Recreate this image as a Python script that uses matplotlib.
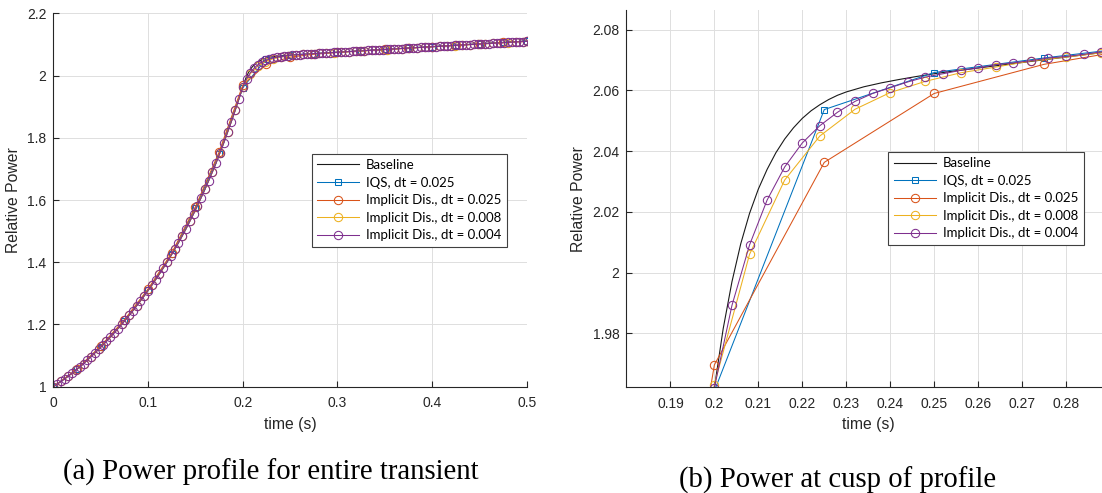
import numpy as np
import matplotlib
matplotlib.use('Agg')
import matplotlib.pyplot as plt

plt.rcParams['font.family'] = ['Liberation Sans', 'DejaVu Sans']
plt.rcParams['font.size'] = 10

# baseline (reference) solution
t_base = [0.00, 0.01, 0.02, 0.03, 0.04, 0.05, 0.06, 0.07, 0.08, 0.09,
          0.10, 0.11, 0.12, 0.13, 0.14, 0.15, 0.16, 0.17, 0.18, 0.19,
          0.200, 0.202, 0.204, 0.206, 0.208, 0.210, 0.212, 0.214, 0.216, 0.218,
          0.220, 0.222, 0.224, 0.226, 0.228, 0.230,
          0.234, 0.238, 0.242, 0.246, 0.250, 0.255, 0.260, 0.265, 0.270, 0.275,
          0.280, 0.285, 0.290,
          0.300, 0.325, 0.350, 0.375, 0.400, 0.425, 0.450, 0.475, 0.500]
p_base = [1.000, 1.021, 1.044, 1.069, 1.097, 1.127, 1.159, 1.193, 1.229, 1.268,
          1.309, 1.353, 1.400, 1.451, 1.507, 1.568, 1.634, 1.705, 1.784, 1.870,
          1.9620, 1.9815, 1.9970, 2.0095, 2.0195, 2.0275, 2.0340, 2.0395, 2.0440, 2.0477,
          2.0508, 2.0533, 2.0553, 2.0570, 2.0584, 2.0595,
          2.0612, 2.0625, 2.0636, 2.0646, 2.0655, 2.0665, 2.0674, 2.0683, 2.0692, 2.0701,
          2.0710, 2.0719, 2.0728,
          2.0750, 2.0795, 2.0840, 2.0885, 2.0930, 2.0975, 2.1020, 2.1065, 2.1110]

# IQS, dt = 0.025
dt_iqs = 0.025
p_iqs = [1.000, 1.056, 1.129, 1.212, 1.311, 1.426, 1.573, 1.748, 1.961,
         2.0537, 2.0659, 2.0707, 2.0750, 2.0795, 2.0840, 2.0885, 2.0930,
         2.0975, 2.1020, 2.1065, 2.1110]

# implicit discretisation, dt = 0.025
dt_imp1 = 0.025
p_imp1 = [1.000, 1.057, 1.131, 1.215, 1.314, 1.430, 1.578, 1.754, 1.9696,
          2.0363, 2.0590, 2.0686, 2.0747, 2.0792, 2.0837, 2.0882, 2.0927,
          2.0972, 2.1017, 2.1062, 2.1107]

# implicit discretisation, dt = 0.008
dt_imp2 = 0.008
p_imp2 = [1.000, 1.017, 1.034, 1.054, 1.074, 1.097, 1.121, 1.146, 1.172, 1.200,
          1.229, 1.260, 1.292, 1.326, 1.362, 1.400, 1.441, 1.484, 1.531, 1.581,
          1.634, 1.691, 1.752, 1.818, 1.888,
          1.9631, 2.0060, 2.0305, 2.0450, 2.0538, 2.0593, 2.0630, 2.0658, 2.0677, 2.0697,
          2.0710, 2.0724,
          2.0738, 2.0752, 2.0766, 2.0780, 2.0794, 2.0808, 2.0822, 2.0836, 2.0850, 2.0864,
          2.0878, 2.0892, 2.0906, 2.0920, 2.0934, 2.0948, 2.0962, 2.0976, 2.0990, 2.1004,
          2.1018, 2.1032, 2.1046, 2.1060, 2.1074, 2.1088]

# implicit discretisation, dt = 0.004
dt_imp3 = 0.004
p_imp3 = [1.000, 1.008, 1.017, 1.025, 1.034, 1.044, 1.054, 1.064, 1.074, 1.086,
          1.097, 1.109, 1.121, 1.133, 1.146, 1.159, 1.172, 1.186, 1.200, 1.214,
          1.229, 1.244, 1.260, 1.276, 1.292, 1.309, 1.326, 1.344, 1.362, 1.381,
          1.400, 1.420, 1.441, 1.462, 1.484, 1.507, 1.531, 1.555, 1.581, 1.607,
          1.634, 1.662, 1.691, 1.720, 1.752, 1.784, 1.818, 1.852, 1.888, 1.925,
          1.9621, 1.9892, 2.0091, 2.0239, 2.0348, 2.0427, 2.0484, 2.0528, 2.0564, 2.0590,
          2.0609, 2.0628, 2.0644, 2.0655, 2.0666, 2.0674, 2.0685, 2.0691, 2.0698, 2.0707,
          2.0712, 2.0719, 2.0727,
          2.0734, 2.0741, 2.0748, 2.0755, 2.0762, 2.0769, 2.0777, 2.0784, 2.0791, 2.0798,
          2.0805, 2.0812, 2.0819, 2.0826, 2.0833, 2.0840, 2.0847, 2.0854, 2.0861, 2.0868,
          2.0875, 2.0882, 2.0889, 2.0896, 2.0903, 2.0910, 2.0917, 2.0924, 2.0931, 2.0938,
          2.0945, 2.0952, 2.0959, 2.0966, 2.0973, 2.0980, 2.0987, 2.0994, 2.1001, 2.1008,
          2.1015, 2.1022, 2.1029, 2.1036, 2.1043, 2.1050, 2.1057, 2.1064, 2.1071, 2.1078,
          2.1085, 2.1092, 2.1099]

labels = ['Baseline', 'IQS, dt = 0.025', 'Implicit Dis., dt = 0.025',
          'Implicit Dis., dt = 0.008', 'Implicit Dis., dt = 0.004']
captions = ['(a) Power profile for entire transient', '(b) Power at cusp of profile']

c_blue = '#0072BD'
c_orange = '#D95319'
c_yellow = '#EDB120'
c_purple = '#7E2F8E'
axcol = '#262626'

fig = plt.figure(figsize=(11.02, 4.93), dpi=100)
ax1 = fig.add_axes([0.0484, 0.2156, 0.4297, 0.7574])
ax2 = fig.add_axes([0.5685, 0.2144, 0.4387, 0.7653])

series = [
    (np.arange(len(p_iqs)) * dt_iqs, p_iqs, c_blue, 's', 5.0),
    (np.arange(len(p_imp1)) * dt_imp1, p_imp1, c_orange, 'o', 6.0),
    (np.arange(len(p_imp2)) * dt_imp2, p_imp2, c_yellow, 'o', 6.0),
    (np.arange(len(p_imp3)) * dt_imp3, p_imp3, c_purple, 'o', 6.0),
]

for ax in (ax1, ax2):
    ax.plot(t_base, p_base, color='#1a1a1a', lw=0.8, label=labels[0])
    for (t, p, col, mk, ms), lab in zip(series, labels[1:]):
        ax.plot(t, p, color=col, lw=0.75, marker=mk, ms=ms, mfc='none',
                mec=col, mew=0.75, label=lab)
    ax.grid(True, color='#DEDEDE', lw=0.7)
    ax.set_axisbelow(True)
    for s in ('top', 'right'):
        ax.spines[s].set_visible(False)
    for s in ('left', 'bottom'):
        ax.spines[s].set_color(axcol)
        ax.spines[s].set_linewidth(0.8)
    ax.tick_params(direction='in', length=4, width=0.8, colors=axcol,
                   labelsize=10, labelcolor=axcol)
    ax.tick_params(axis='x', pad=7)
    ax.tick_params(axis='y', pad=5)
    ax.set_xlabel('time (s)', color=axcol, fontsize=11.3)
    ax.set_ylabel('Relative Power', color=axcol, fontsize=11.3)

ax1.set_xlim(0, 0.5)
ax1.set_ylim(1, 2.2)
ax1.set_xticks([0, 0.1, 0.2, 0.3, 0.4, 0.5])
ax1.set_xticklabels(['0', '0.1', '0.2', '0.3', '0.4', '0.5'])
ax1.set_yticks([1, 1.2, 1.4, 1.6, 1.8, 2, 2.2])
ax1.set_yticklabels(['1', '1.2', '1.4', '1.6', '1.8', '2', '2.2'])
ax1.xaxis.set_label_coords(0.5, -0.08)
ax1.yaxis.set_label_coords(-0.068, 0.5)

ax2.set_xlim(0.18, 0.29)
ax2.set_ylim(1.9622, 2.0865)
xt = [0.19, 0.20, 0.21, 0.22, 0.23, 0.24, 0.25, 0.26, 0.27, 0.28]
ax2.set_xticks(xt)
ax2.set_xticklabels(['0.19', '0.2', '0.21', '0.22', '0.23', '0.24', '0.25',
                     '0.26', '0.27', '0.28'])
ax2.set_yticks([1.98, 2.0, 2.02, 2.04, 2.06, 2.08])
ax2.set_yticklabels(['1.98', '2', '2.02', '2.04', '2.06', '2.08'])
ax2.xaxis.set_label_coords(0.5, -0.08)
ax2.yaxis.set_label_coords(-0.084, 0.5)

leg_kw = dict(loc='upper left', bbox_transform=fig.transFigure, borderaxespad=0,
              fancybox=False, framealpha=1, edgecolor='#404040',
              prop={'family': 'Lato', 'size': 9.5}, handlelength=3.2,
              handletextpad=0.5, labelspacing=0.42, borderpad=0.42)
l1 = ax1.legend(bbox_to_anchor=(0.2827, 0.6886), **leg_kw)
l2 = ax2.legend(bbox_to_anchor=(0.8062, 0.6923), **leg_kw)
for lg in (l1, l2):
    lg.get_frame().set_linewidth(0.8)

fig.text(0.2456, 0.041, captions[0], ha='center', va='center',
         family='Liberation Serif', fontsize=20.7)
fig.text(0.7604, 0.025, captions[1], ha='center', va='center',
         family='Liberation Serif', fontsize=20.7)

fig.savefig('out.png', dpi=100)
